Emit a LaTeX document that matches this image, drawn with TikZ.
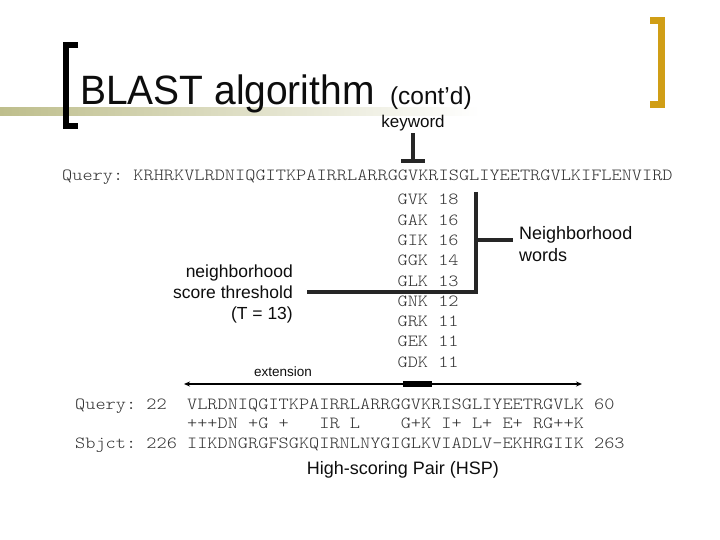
\documentclass[tikz,border=0pt]{standalone}
\usepackage{fontspec}
\setmainfont{Liberation Sans}
\newfontfamily\seqfont{Latin Modern Mono Light}[FakeStretch=1.14]
\newfontfamily\titlefont{Liberation Sans}[FakeStretch=0.95]
\usetikzlibrary{arrows.meta, positioning, calc}
\definecolor{barolive}{RGB}{190,190,140}
\definecolor{brgold}{RGB}{208,158,22}
\definecolor{seqgray}{RGB}{50,50,50}
\newcommand{\seqsize}{\seqfont\frenchspacing\fontsize{17pt}{20.25pt}\selectfont}
\newcommand{\lblsize}[1]{\fontsize{#1pt}{1.22\dimexpr#1pt\relax}\selectfont}

\begin{document}
\begin{tikzpicture}[
  x=1pt, y=-1pt,
  seq/.style={font=\seqsize, text=seqgray, inner sep=0, anchor=base west},
  lbl/.style={text=black!95, inner sep=0},
  stem/.style={draw=black!85, line width=3.2pt},
  brk/.style={draw=black!85, line width=3.5pt},
  lbrack/.style={draw=black, line width=6pt, line join=miter},
  rbrack/.style={draw=brgold, line width=7pt, line join=miter}
]
\useasboundingbox (0,0) rectangle (720,540);

% title bar and brackets
\shade[left color=barolive, right color=white] (0,108) rectangle (480,116);
\draw[lbrack] (78,45.5) -- (66,45.5) -- (66,126.5) -- (78,126.5);
\draw[rbrack] (650,20.5) -- (661.5,20.5) -- (661.5,105) -- (650,105);

\node[lbl, anchor=base west, font=\titlefont\lblsize{41}] (title) at (80,105) {BLAST algorithm};
\node[lbl, anchor=base west, font=\lblsize{24.5}] (contd) at ([xshift=15pt]title.base east) {(cont’d)};

% keyword
\node[lbl, inner sep=2pt, font=\lblsize{17}] (kw) at (413,123) {keyword};
\coordinate (kwfoot) at (413,161);
\draw[stem] (kw) -- (kwfoot);
\draw[stem] ([xshift=-12pt]kwfoot) -- ([xshift=12pt]kwfoot);

\node[seq] (query) at (62,181) {Query:~KRHRKVLRDNIQGITKPAIRRLARRGGVKRISGLIYEETRGVLKIFLENVIRD};

% neighborhood words
\node[seq] (w1) at (397.4,205)    {GVK~18};
\node[seq] (w2) at (397.4,225.25) {GAK~16};
\node[seq] (w3) at (397.4,245.5)  {GIK~16};
\node[seq] (w4) at (397.4,265.75) {GGK~14};
\node[seq] (w5) at (397.4,286)    {GLK~13};
\node[seq] (w6) at (397.4,306.25) {GNK~12};
\node[seq] (w7) at (397.4,326.5)  {GRK~11};
\node[seq] (w8) at (397.4,346.75) {GEK~11};
\node[seq] (w9) at (397.4,367)    {GDK~11};

\node[lbl, align=right, anchor=east, font=\lblsize{17.5}] (thr) at (293,294) {neighborhood\\score threshold\\(T = 13)};
\node[lbl, align=left, anchor=west, inner xsep=6pt, font=\lblsize{18}] (nbw) at (513,244.5) {Neighborhood\\words};

\coordinate (btop) at (476,192);
\coordinate (bmid) at (476,240);
\draw[brk] (btop) |- ([xshift=14pt,yshift=2pt]thr.east);
\draw[brk] (bmid) -- (bmid -| nbw.west);

% extension
\node[lbl, font=\lblsize{13.5}] (ext) at (283,372) {extension};
\coordinate (extL) at (184,384);
\coordinate (extR) at (582,384);
\coordinate (seedL) at (403,384);
\coordinate (seedR) at (432,384);
\draw[{Stealth[length=6pt,width=5pt]}-{Stealth[length=6pt,width=5pt]}, line width=2pt] (extL) -- (extR);
\draw[line width=6pt] (seedL) -- (seedR);

% HSP
\node[seq] (hq) at (75,409) {Query:~22~~VLRDNIQGITKPAIRRLARRGGVKRISGLIYEETRGVLK~60};
\node[seq] (hm) at ([yshift=-19.5pt]hq.base west) {~~~~~~~~~~~+++DN~+G~+~~~IR~L~~~~G+K~I+~L+~E+~RG++K};
\node[seq] (hs) at ([yshift=-39pt]hq.base west) {Sbjct:~226~IIKDNGRGFSGKQIRNLNYGIGLKVIADLV-EKHRGIIK~263};

\node[lbl, font=\lblsize{18}] (hsp) at (403,470) {High-scoring Pair (HSP)};
\end{tikzpicture}
\end{document}
